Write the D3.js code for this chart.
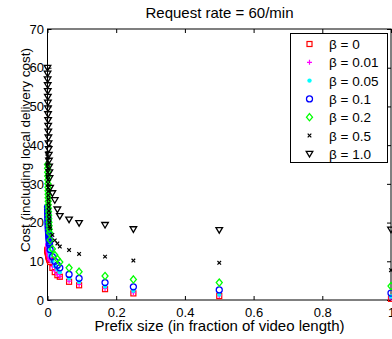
<!DOCTYPE html>
<html>
  <head>
    <script src="https://unpkg.com/d3@7/dist/d3.min.js"></script>
    <style>
      body { margin: 0; background: #fff; }
      text { font-family: "Liberation Sans", Arial, sans-serif; fill: #000; }
    </style>
  </head>
  <body>
    <svg width="392" height="339"></svg>
    <script>

      // prefix sizes (fraction of video length)
      const prefix = [0, 0.0002, 0.0004, 0.0006, 0.0008, 0.001, 0.0012, 0.0014, 0.0016, 0.0018,
                      0.002, 0.0023, 0.0026, 0.003, 0.0034, 0.0038, 0.0043, 0.0048, 0.0054, 0.006,
                      0.0076, 0.0142, 0.0212, 0.0288, 0.0358, 0.0628, 0.092, 0.1675, 0.25, 0.5, 1];

      const cost_b0    = [13, 12.9, 12.7, 12.6, 12.5, 12.4, 12.2, 12.1, 12, 11.9,
                          11.8, 11.6, 11.5, 11.3, 11.2, 11, 10.9, 10.7, 10.5, 10.3,
                          9.8, 8.3, 7.2, 6.4, 6.0, 4.7, 3.8, 2.8, 1.7, 1.0, 0.3];
      const cost_b001  = [14.5, 14.3, 14.1, 13.9, 13.7, 13.5, 13.3, 13.1, 12.9, 12.7,
                          12.5, 12.3, 12.1, 11.9, 11.7, 11.5, 11.3, 11.1, 10.8, 10.5,
                          10.1, 8.6, 7.5, 6.6, 6.1, 4.9, 4.0, 3.0, 1.9, 1.1, 0.5];
      const cost_b005  = [20, 19.5, 19.1, 18.7, 18.3, 17.9, 17.5, 17.1, 16.7, 16.3,
                          16, 15.6, 15.2, 14.8, 14.4, 14, 13.6, 13.2, 12.8, 12.4,
                          11.5, 10, 8.8, 7.9, 7.2, 5.6, 4.7, 3.5, 2.4, 1.4, 0.9];
      const cost_b01   = [24, 23.4, 22.8, 22.3, 21.8, 21.3, 20.8, 20.3, 19.8, 19.3,
                          18.8, 18.3, 17.8, 17.3, 16.8, 16.3, 15.8, 15.3, 14.8, 14.3,
                          13, 11.2, 10.0, 9.0, 8.3, 6.6, 5.6, 4.5, 3.4, 2.6, 1.8];
      const cost_b02   = [35, 34, 33, 32, 31, 30, 29.1, 28.2, 27.3, 26.4,
                          25.5, 24.6, 23.7, 22.8, 21.9, 21, 20.1, 19.2, 18.3, 17.4,
                          15.5, 13.2, 11.6, 10.6, 9.8, 8.3, 7.3, 6.2, 5.3, 4.5, 3.6];
      const cost_b05   = [38, 37, 36, 35, 34, 33, 32, 31, 30, 29,
                          28, 27, 26, 25, 24, 23, 22, 21, 20, 19,
                          18.5, 16.8, 15.4, 14.6, 13.8, 12.9, 11.9, 11.2, 10.2, 9.6, 7.7];
      const cost_b1    = [60, 58.5, 57, 55.5, 54, 52.5, 51, 49.5, 48, 46.5,
                          45, 43.5, 42, 40.5, 39, 37.5, 36, 34.5, 33, 31.5,
                          29, 27.6, 25.8, 23.4, 21.7, 20.8, 19.9, 19.4, 18.3, 18.1, 18.2];

      const labels = ["β = 0", "β = 0.01", "β = 0.05", "β = 0.1", "β = 0.2", "β = 0.5", "β = 1.0"];
      const allCosts = [cost_b0, cost_b001, cost_b005, cost_b01, cost_b02, cost_b05, cost_b1];

      const xTicks = [0, 0.2, 0.4, 0.6, 0.8, 1];
      const yTicks = [0, 10, 20, 30, 40, 50, 60, 70];

      const styles = [
        { color: "#ff0000", shape: "square" },
        { color: "#ff00ff", shape: "plus" },
        { color: "#00ffff", shape: "dot" },
        { color: "#0000ff", shape: "circle" },
        { color: "#00ff00", shape: "diamond" },
        { color: "#000000", shape: "cross" },
        { color: "#000000", shape: "triangle" }
      ];

      const svg = d3.select("svg");
      const L = 47.5, R = 391, T = 29, B = 300;

      const x = d3.scaleLinear().domain([0, 1]).range([L, R]);
      const y = d3.scaleLinear().domain([0, 70]).range([B, T]);

      const marker = (g, shape, color) => {
        if (shape === "square") {
          g.append("rect").attr("x", -2.5).attr("y", -2.5).attr("width", 5).attr("height", 5)
            .attr("fill", "none").attr("stroke", color).attr("stroke-width", 1.2);
        } else if (shape === "plus") {
          g.append("path").attr("d", "M-2.5,0H2.5M0,-2.5V2.5")
            .attr("stroke", color).attr("stroke-width", 1.2);
        } else if (shape === "dot") {
          g.append("circle").attr("r", 2.2).attr("fill", color);
        } else if (shape === "circle") {
          g.append("circle").attr("r", 3).attr("fill", "none")
            .attr("stroke", color).attr("stroke-width", 1.3);
        } else if (shape === "diamond") {
          g.append("path").attr("d", "M0,-3.6L3,0L0,3.6L-3,0Z").attr("fill", "none")
            .attr("stroke", color).attr("stroke-width", 1.3);
        } else if (shape === "cross") {
          g.append("path").attr("d", "M-1.8,-1.8L1.8,1.8M-1.8,1.8L1.8,-1.8")
            .attr("stroke", color).attr("stroke-width", 1.2);
        } else {
          g.append("path").attr("d", "M-3.3,-2.4H3.3L0,3.2Z").attr("fill", "none")
            .attr("stroke", color).attr("stroke-width", 1.3);
        }
      };

      // axes box with inward ticks
      svg.append("g").attr("transform", `translate(0,${B})`)
        .call(d3.axisBottom(x).tickValues(xTicks).tickFormat(d3.format("")).tickSizeInner(-4).tickSizeOuter(0).tickPadding(8));
      svg.append("g").attr("transform", `translate(0,${T})`)
        .call(d3.axisTop(x).tickValues(xTicks).tickFormat("").tickSizeInner(-4).tickSizeOuter(0));
      svg.append("g").attr("transform", `translate(${L},0)`)
        .call(d3.axisLeft(y).tickValues(yTicks).tickSizeInner(-4).tickSizeOuter(0).tickPadding(3.5));
      svg.append("g").attr("transform", `translate(${R},0)`)
        .call(d3.axisRight(y).tickValues(yTicks).tickFormat("").tickSizeInner(-4).tickSizeOuter(0));

      svg.selectAll(".domain").remove();
      svg.selectAll(".tick line").attr("stroke", "#000");
      svg.selectAll(".tick text").attr("font-size", 13).attr("font-family", "Liberation Sans, Arial, sans-serif").attr("fill", "#000");
      svg.append("rect").attr("x", L).attr("y", T).attr("width", R - L).attr("height", B - T)
        .attr("fill", "none").attr("stroke", "#000").attr("stroke-width", 1);

      // data markers
      allCosts.forEach((vals, i) => {
        const g = svg.append("g");
        vals.forEach((v, j) => {
          const m = g.append("g").attr("transform", `translate(${x(prefix[j])},${y(v)})`);
          marker(m, styles[i].shape, styles[i].color);
        });
      });

      // legend
      const lg = svg.append("g");
      lg.append("rect").attr("x", 290.5).attr("y", 33.5).attr("width", 97).attr("height", 129)
        .attr("fill", "#fff").attr("stroke", "#000");
      labels.forEach((lab, i) => {
        const yy = 44 + i * 18.3;
        const m = lg.append("g").attr("transform", `translate(309.5,${yy})`);
        marker(m, styles[i].shape, styles[i].color);
        lg.append("text").attr("x", 329).attr("y", yy + 5).attr("font-size", 13.5).text(lab);
      });

      svg.append("text").attr("x", 219.5).attr("y", 17.5).attr("text-anchor", "middle")
        .attr("font-size", 15).text("Request rate = 60/min");
      svg.append("text").attr("x", 219.5).attr("y", 330.5).attr("text-anchor", "middle")
        .attr("font-size", 15).text("Prefix size (in fraction of video length)");
      svg.append("text").attr("transform", "translate(29.5,150) rotate(-90)").attr("text-anchor", "middle")
        .attr("font-size", 13.5).text("Cost (including local delivery cost)");

    </script>
  </body>
</html>
